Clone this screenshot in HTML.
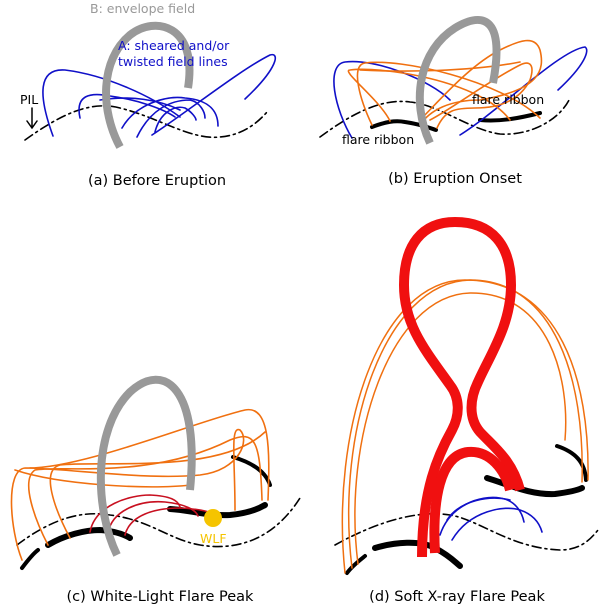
<!DOCTYPE html>
<html><head><style>body{margin:0;background:#fff}svg{display:block}text{font-family:"DejaVu Sans","Liberation Sans",sans-serif}</style></head><body>
<svg width="600" height="606" viewBox="0 0 600 606" xmlns="http://www.w3.org/2000/svg">
<g fill="none" stroke-linecap="round">
<!-- Panel a -->
<path d="M25,140 C60,115 90,100 120,108 C160,118 190,140 220,137 C245,135 260,120 267,112" stroke="#000" stroke-width="1.6" stroke-dasharray="9,4,2,4"/>
<g stroke="#1010c8" stroke-width="1.6">
<path d="M53,136 C38,95 38,68 65,70 C105,75 150,95 180,117"/>
<path d="M80,118 C75,95 90,92 110,96 C140,100 165,110 175,117"/>
<path d="M152,135 C190,110 240,70 270,55 C280,52 278,68 245,99"/>
<path d="M122,128 C135,105 165,95 185,98 C210,100 218,112 218,126"/>
<path d="M137,137 C150,110 170,100 190,100 C200,102 205,112 205,118"/>
<path d="M155,132 C160,112 175,105 185,108 C192,112 196,118 196,120"/>
<path d="M100,100 C130,95 160,100 180,110"/>
</g>
<path d="M120,147 C100,110 100,60 130,35 C155,15 198,25 188,88" stroke="#999" stroke-width="8" stroke-linecap="butt"/>
<path d="M32,108 V127 M27,121 L32,128 L37,121" stroke="#000" stroke-width="1.5"/>
<!-- Panel b -->
<path d="M320,137 C350,115 380,98 410,102 C440,105 470,130 500,134 C530,136 560,120 570,98" stroke="#000" stroke-width="1.6" stroke-dasharray="9,4,2,4"/>
<path d="M372,127 C385,122 395,120 405,122 C420,124 430,128 436,130" stroke="#000" stroke-width="4"/>
<path d="M480,120 C500,122 520,118 540,113" stroke="#000" stroke-width="4"/>
<g stroke="#1010c8" stroke-width="1.6">
<path d="M352,138 C335,110 325,65 345,62 C375,58 430,80 450,100"/>
<path d="M460,135 C500,110 560,50 585,47 C590,50 585,65 558,90"/>
</g>
<g stroke="#f07010" stroke-width="1.6">
<path d="M372,125 C360,100 350,65 365,63 C400,58 500,80 540,118"/>
<path d="M390,121 C380,100 340,70 350,70 C380,66 480,80 510,120"/>
<path d="M420,125 C430,110 450,100 480,100 C540,90 545,70 540,50 C535,35 520,40 500,50 C470,65 440,100 420,120"/>
<path d="M437,128 C445,110 455,108 475,108 C500,108 520,100 530,80 C535,65 530,60 520,65 C490,80 450,110 430,120"/>
<path d="M360,70 C400,72 470,72 520,62"/>
</g>
<path d="M430,143 C410,100 420,50 455,28 C485,10 505,20 493,83" stroke="#999" stroke-width="8" stroke-linecap="butt"/>
<!-- Panel c -->
<path d="M17,545 C50,520 80,510 110,515 C150,520 170,540 200,545 C230,550 270,545 300,498" stroke="#000" stroke-width="1.6" stroke-dasharray="9,4,2,4"/>
<path d="M22,568 C28,560 34,553 38,550" stroke="#000" stroke-width="4"/>
<path d="M48,545 C65,535 85,530 100,530 C115,531 125,535 130,538" stroke="#000" stroke-width="6"/>
<path d="M170,509 C190,510 205,516 230,515 C250,513 260,508 265,505" stroke="#000" stroke-width="6"/>
<path d="M233,457 C250,462 265,470 270,485" stroke="#000" stroke-width="4"/>
<g stroke="#c81020" stroke-width="1.6">
<path d="M90,532 C95,505 130,495 150,495 C170,496 178,500 180,507"/>
<path d="M108,533 C112,510 140,500 165,502 C185,504 196,510 198,516"/>
<path d="M125,535 C130,515 155,508 180,508 C200,509 212,512 215,515"/>
</g>
<g stroke="#f07010" stroke-width="1.6">
<path d="M22,560 C10,530 5,470 25,468 C80,470 200,420 245,410 C270,405 270,450 268,500"/>
<path d="M48,545 C35,520 20,480 35,470 C60,465 150,480 230,440 C255,430 260,440 262,500"/>
<path d="M70,538 C55,510 40,470 60,465 C100,460 220,475 265,432"/>
<path d="M30,468 C80,470 150,480 200,475 C240,470 250,440 240,430 C230,425 235,460 235,510"/>
<path d="M15,470 C60,485 150,490 190,485"/>
</g>
<path d="M117,555 C95,510 92,430 130,392 C165,360 200,390 190,490" stroke="#999" stroke-width="8" stroke-linecap="butt"/>
<circle cx="213" cy="518" r="9" fill="#f5c400" stroke="none"/>
<!-- Panel d -->
<path d="M335,545 C380,520 420,510 450,515 C480,520 510,548 560,550 C580,550 590,540 598,530" stroke="#000" stroke-width="1.6" stroke-dasharray="9,4,2,4"/>
<path d="M347,573 C352,566 360,560 365,556" stroke="#000" stroke-width="4"/>
<path d="M375,548 C395,542 420,540 435,548 C450,556 455,562 460,566" stroke="#000" stroke-width="6"/>
<path d="M487,478 C510,485 530,495 555,494 C570,492 578,490 582,488" stroke="#000" stroke-width="6"/>
<path d="M557,446 C575,452 585,462 586,480" stroke="#000" stroke-width="4"/>
<g stroke="#1010c8" stroke-width="1.6">
<path d="M440,535 C450,505 480,495 500,498 C515,500 522,512 524,522"/>
<path d="M447,520 C460,500 490,495 510,500"/>
<path d="M452,540 C470,510 505,505 520,510 C535,515 540,525 542,532"/>
</g>
<g stroke="#f07010" stroke-width="1.5">
<path d="M345,573 C330,430 380,280 465,280 C560,280 590,380 588,480"/>
<path d="M352,568 C335,430 385,282 470,280 C555,280 585,380 582,482"/>
<path d="M358,564 C342,440 390,295 470,293 C550,292 570,380 565,440"/>
</g>
<path d="M422,557 C422,490 438,455 452,430 C460,415 460,398 450,385 C425,350 404,325 404,285 C404,245 422,222 455,222 C492,222 511,245 511,285 C511,325 490,355 478,382 C470,398 468,418 480,432 C495,448 512,460 520,490" stroke="#f01010" stroke-width="10" stroke-linecap="butt"/>
<path d="M435,553 C432,500 440,455 468,452 C490,450 505,470 510,490" stroke="#f01010" stroke-width="10" stroke-linecap="butt"/>
</g>
<g font-size="12.5">
<text x="90" y="13" fill="#999">B: envelope field</text>
<text x="118" y="50" fill="#1010c8">A: sheared and/or</text>
<text x="118" y="66" fill="#1010c8">twisted field lines</text>
<text x="20" y="104" fill="#000">PIL</text>
<text x="342" y="144" fill="#000">flare ribbon</text>
<text x="472" y="104" fill="#000">flare ribbon</text>
<text x="200" y="543" fill="#f5c400">WLF</text>
</g>
<g font-size="14.5" fill="#000" text-anchor="middle">
<text x="157" y="185">(a) Before Eruption</text>
<text x="455" y="183">(b) Eruption Onset</text>
<text x="160" y="601">(c) White-Light Flare Peak</text>
<text x="457" y="601">(d) Soft X-ray Flare Peak</text>
</g>
</svg>
</body></html>
